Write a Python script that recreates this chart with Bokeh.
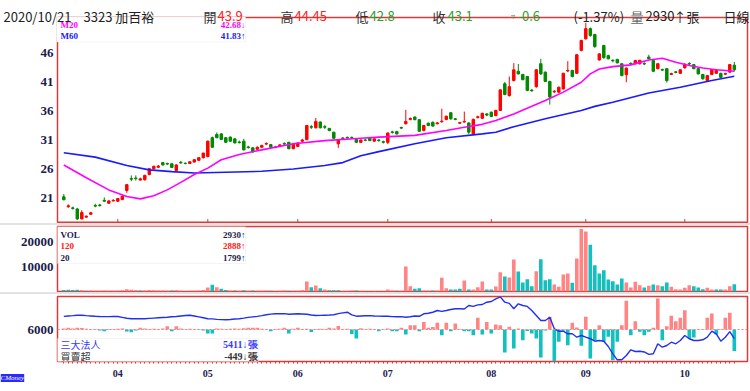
from bokeh.plotting import figure
from bokeh.layouts import column, row
from bokeh.models import ColumnDataSource, Range1d, FixedTicker, Label, BoxAnnotation, Span, Div
from bokeh.embed import file_html
from bokeh.resources import INLINE
from bokeh.core.properties import value

# ---------------- data ----------------
open_ = [21.2, 19.5, 19.3, 19.1, 17.4, 17.7, 18.2, 19.7, 19.8, 20.6,
         20.1, 20.5, 20.45, 20.75, 22.3, 24.35, 24.45, 24.1, 24.15, 25.05,
         26.05, 26.3, 27.1, 26.95, 26.9, 25.75, 27.15, 27.0, 26.95, 27.2,
         27.5, 27.95, 28.15, 31.4, 31.95, 32.05, 31.4, 31.5, 31.2, 30.65,
         30.8, 29.8, 29.65, 29.4, 29.75, 30.3, 30.2, 29.8, 30.0, 30.4,
         30.6, 29.5, 29.9, 30.8, 31.05, 33.3, 33.1, 34.1, 33.3, 33.0,
         32.35, 30.35, 31.35, 31.45, 31.45, 31.1, 30.6, 31.0, 31.3, 30.8,
         31.0, 30.7, 30.6, 32.4, 32.45, 33.15, 33.8, 34.55, 34.95, 34.5,
         32.65, 33.9, 34.05, 33.8, 34.15, 34.55, 35.7, 34.65, 33.9, 34.1,
         33.95, 31.95, 34.9, 34.75, 35.5, 35.8, 35.2, 36.1, 40.7, 38.65,
         41.25, 42.85, 42.3, 41.95, 39.6, 40.2, 44.15, 42.7, 41.1, 39.3,
         39.25, 39.8, 42.9, 43.0, 42.5, 46.45, 48.45, 50.2, 49.2, 44.8,
         47.3, 45.55, 44.75, 44.9, 44.15, 42.25, 44.2, 44.15, 44.15, 44.2,
         45.3, 44.7, 43.3, 43.15, 43.3, 42.3, 42.75, 42.5, 43.45, 44.2,
         44.0, 43.3, 42.3, 41.25, 42.3, 42.5, 42.5, 42.35, 42.7, 43.9]
high_ = [21.7, 19.9, 19.5, 19.3, 18.9, 18.0, 18.6, 20.0, 20.0, 21.1,
         20.6, 20.8, 21.0, 21.4, 23.4, 24.9, 24.9, 24.5, 25.0, 26.2,
         26.6, 26.7, 27.2, 27.1, 27.0, 26.8, 27.4, 27.1, 27.3, 27.7,
         28.0, 28.8, 30.9, 31.6, 32.3, 32.2, 31.5, 31.6, 31.3, 30.9,
         31.2, 30.0, 29.8, 29.9, 30.2, 30.6, 30.3, 30.0, 30.3, 30.6,
         30.7, 30.5, 30.6, 31.2, 33.6, 33.6, 34.8, 34.2, 33.6, 33.1,
         32.4, 31.1, 31.5, 31.6, 31.6, 31.2, 31.1, 31.2, 31.4, 31.3,
         31.2, 30.9, 32.3, 32.6, 32.6, 33.3, 36.2, 34.9, 35.1, 34.6,
         33.6, 34.0, 34.2, 34.1, 36.4, 35.2, 35.8, 34.8, 34.1, 35.9,
         34.0, 34.7, 35.2, 35.7, 35.6, 35.9, 36.2, 39.7, 41.0, 41.95,
         44.25, 44.1, 42.4, 42.0, 39.8, 43.2, 45.0, 42.8, 41.2, 39.6,
         40.2, 42.6, 44.6, 43.1, 45.8, 48.3, 51.2, 50.4, 49.3, 45.9,
         47.4, 45.7, 44.9, 45.0, 44.2, 43.5, 44.4, 44.8, 44.8, 44.4,
         45.7, 44.8, 44.2, 43.3, 43.4, 42.6, 42.9, 43.2, 44.3, 44.4,
         44.1, 43.4, 42.4, 42.2, 43.2, 43.2, 42.6, 42.6, 44.1, 44.45]
low_ = [20.6, 19.3, 19.0, 17.2, 17.3, 17.6, 18.1, 19.4, 19.5, 20.3,
        20.0, 20.4, 20.3, 20.6, 21.9, 23.9, 24.0, 24.0, 24.0, 24.9,
        25.9, 26.2, 26.6, 26.7, 26.2, 25.6, 26.9, 26.8, 26.9, 27.1,
        27.4, 27.8, 28.0, 29.6, 31.3, 31.0, 30.5, 30.7, 30.4, 30.4,
        29.2, 29.5, 28.8, 29.3, 29.7, 30.1, 29.6, 29.6, 29.9, 30.1,
        29.4, 29.4, 29.8, 30.6, 31.0, 32.9, 33.0, 33.0, 32.9, 32.5,
        31.2, 29.65, 31.1, 31.2, 31.2, 30.5, 30.5, 30.8, 30.8, 30.7,
        30.7, 30.4, 30.3, 32.1, 31.9, 32.9, 33.7, 34.4, 34.4, 32.4,
        32.5, 33.4, 33.3, 33.7, 34.0, 34.4, 34.5, 34.4, 33.8, 34.0,
        32.0, 31.8, 34.7, 34.6, 35.1, 35.0, 35.1, 36.0, 38.7, 38.5,
        41.1, 42.3, 41.3, 39.4, 39.3, 40.0, 42.2, 41.0, 37.1, 39.1,
        39.1, 39.7, 42.7, 41.8, 42.4, 46.3, 48.3, 48.8, 46.9, 44.7,
        45.0, 44.9, 44.4, 44.2, 42.0, 40.95, 43.9, 44.0, 44.0, 43.9,
        44.9, 42.7, 43.2, 42.9, 40.9, 42.2, 42.5, 42.4, 43.3, 43.9,
        43.2, 42.3, 41.4, 41.1, 42.2, 42.4, 41.7, 42.2, 42.6, 42.8]
close_ = [20.7, 19.65, 19.2, 17.4, 18.5, 17.85, 18.45, 19.6, 19.7, 20.45,
          20.5, 20.6, 20.9, 21.3, 23.3, 24.25, 24.35, 24.3, 24.9, 26.05,
          26.45, 26.5, 26.7, 26.85, 26.25, 26.7, 27.05, 26.95, 27.25, 27.6,
          27.95, 28.75, 30.8, 29.75, 31.4, 31.1, 30.6, 30.8, 30.5, 30.55,
          29.3, 29.7, 28.95, 29.75, 30.05, 30.4, 29.75, 29.7, 30.15, 30.3,
          29.5, 30.35, 30.5, 31.0, 33.5, 33.2, 34.2, 33.1, 33.2, 32.65,
          31.3, 31.05, 31.25, 31.35, 31.4, 30.6, 31.0, 30.95, 30.9, 31.2,
          30.9, 30.6, 32.2, 32.3, 32.05, 33.05, 34.2, 34.7, 34.5, 32.5,
          33.5, 33.5, 33.4, 33.95, 34.25, 35.1, 34.65, 34.55, 34.0, 34.2,
          32.35, 34.55, 35.0, 35.6, 35.3, 35.05, 36.1, 39.65, 38.85, 40.2,
          43.1, 42.4, 41.4, 39.55, 39.5, 43.1, 42.4, 41.1, 38.4, 39.4,
          40.1, 42.5, 43.0, 41.95, 45.7, 48.15, 50.2, 49.0, 47.1, 45.85,
          45.2, 45.0, 44.65, 44.3, 42.1, 43.4, 44.1, 44.7, 44.75, 44.1,
          45.0, 42.85, 44.15, 43.05, 41.25, 42.45, 42.65, 43.1, 44.0, 44.1,
          43.3, 42.4, 41.55, 42.1, 43.15, 43.05, 41.8, 42.45, 44.0, 43.1]
volume = [600, 700, 600, 700, 500, 300, 400, 300, 300, 400,
          300, 300, 400, 500, 900, 700, 500, 400, 400, 600,
          500, 400, 400, 300, 400, 500, 300, 200, 300, 300,
          400, 600, 1600, 2700, 1700, 1100, 600, 400, 400, 300,
          500, 300, 400, 300, 300, 400, 300, 200, 300, 400,
          300, 300, 300, 500, 4000, 1700, 2400, 1300, 800, 500,
          500, 500, 200, 200, 400, 400, 200, 200, 200, 200,
          200, 200, 800, 400, 300, 300, 10000, 2100, 1100, 1300,
          400, 400, 400, 400, 5500, 1300, 800, 800, 1100, 4400,
          800, 800, 1700, 4000, 800, 800, 2000, 7700, 6000, 5600,
          12800, 8000, 3600, 4900, 2100, 8100, 12900, 4500, 4900, 2800,
          1900, 6800, 7200, 3500, 13200, 25000, 24000, 18700, 10500, 7200,
          8500, 4800, 4100, 2800, 5200, 3600, 1600, 3900, 2500, 1600,
          2300, 2800, 2500, 2100, 3600, 1900, 900, 800, 1500, 2500,
          2100, 1600, 900, 1500, 800, 800, 800, 800, 2100, 2930]
net_buy = [20, 35, 20, 35, 30, 15, 10, 10, -20, -35,
           -10, 10, 15, 20, -40, -60, -20, 35, 20, 10,
           15, 10, 20, 70, -35, 70, 20, 10, 15, 10,
           -10, -20, -85, -85, 20, 15, 10, 15, 20, 15,
           25, 35, 35, 35, 15, 10, -35, 10, 15, 35,
           -85, 15, 35, 10, 15, -50, 10, 15, 10, 35,
           20, 75, 10, 15, -95, -190, 25, 10, 15, 10,
           -35, 10, 20, -35, -35, 35, -105, 90, 90, -35,
           160, 35, 55, 140, -120, 140, -35, 125, 10, -35,
           -35, -120, 245, -105, 160, -85, 105, 90, -483, 56,
           -400, 20, -224, -30, -84, -189, -588, -20, 266, -679,
           -259, -20, -329, 140, 42, -343, 266, -609, -224, 91,
           -259, -154, -644, -259, 91, 602, -119, 175, -49, -119,
           -49, 35, 651, -224, 70, 287, 175, 245, 406, -189,
           -168, 10, -10, 245, 336, -105, 10, 245, 350, -449]
inst_hold = [6850, 6880, 6900, 6930, 6930, 6900, 6880, 6860, 6845, 6840,
             6840, 6845, 6845, 6790, 6735, 6700, 6700, 6695, 6700, 6720,
             6740, 6760, 6780, 6800, 6830, 6845, 6880, 6910, 6930, 6880,
             6820, 6760, 6700, 6690, 6660, 6640, 6630, 6650, 6680, 6700,
             6740, 6790, 6820, 6850, 6900, 6960, 7000, 7020, 7020, 7030,
             6990, 7010, 7020, 7010, 6990, 6940, 6910, 6920, 6930, 6940,
             6960, 7030, 7080, 7125, 6950, 6865, 6880, 6890, 6900, 6880,
             6870, 6865, 6860, 6840, 6830, 6840, 6800, 6830, 6880, 6860,
             7020, 7060, 7120, 7235, 7180, 7235, 7300, 7345, 7345, 7330,
             7560, 7500, 7600, 7625, 7775, 7820, 7995, 8120, 7775, 7700,
             7345, 7670, 7560, 7500, 7235, 6910, 6585, 6585, 6800, 6045,
             5890, 5890, 5720, 5720, 5500, 5610, 5500, 5400, 5240, 5285,
             5240, 4895, 4420, 4030, 4030, 4310, 4680, 4570, 4590, 4540,
             4380, 4420, 5070, 4850, 4960, 5175, 5070, 5285, 5610, 5400,
             5285, 5285, 5330, 5500, 5890, 5720, 5240, 5500, 5860, 5411]
ma20_idx = [0, 5, 10, 14, 17, 20, 23, 26, 29, 32, 35, 39, 44, 51, 58, 66, 70, 78, 85,
            89, 93, 96, 100, 104, 107, 111, 115, 117, 119, 122, 126, 130, 133, 136,
            139, 142, 145, 149]
ma20_val = [26.7, 24.5, 22.4, 21.25, 20.85, 21.4, 22.4, 23.7, 25.05, 26.15, 27.6, 28.5,
            29.3, 30.35, 30.9, 31.3, 31.5, 31.8, 32.65, 33.2, 33.7, 34.35, 35.5, 36.8,
            37.8, 39.25, 40.95, 42.4, 43.25, 43.65, 43.95, 44.8, 45.1, 44.4, 43.85,
            43.4, 43.1, 42.85]
ma60_idx = [0, 7, 14, 19, 24, 29, 36, 44, 51, 58, 62, 66, 70, 78, 85, 93, 96, 100, 107,
            115, 118, 122, 130, 137, 144, 149]
ma60_val = [28.8, 28.05, 26.6, 25.85, 25.55, 25.3, 25.45, 25.6, 26.0, 26.6, 27.1, 28.3,
            29.0, 30.35, 31.4, 32.05, 32.35, 33.3, 34.65, 36.1, 36.8, 37.5, 39.1, 40.1,
            41.25, 42.0]
month_pos = [12, 32, 52, 72, 95, 116, 138]
month_lbl = ["04", "05", "06", "07", "08", "09", "10"]
price_ticks = [21, 26, 31, 36, 41, 46]
vol_ticks = [10000, 20000]
hold_ticks = [6000]

# ---------------- styling ----------------
FRAME = "#d93b3b"
NAVY = "#1b1b4d"
UP, DOWN = "#ff0000", "#008a00"
VUP, VDOWN = "#ff8585", "#13c0c0"
HRED, HGREEN = "#ff2020", "#2e9e2e"
SERIF = "Liberation Serif"
SANS = "Noto Sans CJK TC"
SEP = "#e2e2e2"

# pixel helpers (layout only)
X0, DX = 63.3, 4.5
def xi(px):
    return (px - X0) / DX
def ya(py):
    return 46 + (52.5 - py) / 5.8
def yb(py):
    return (291 - py) * 400
def yc(py):
    return 6000 + (329 - py) * 65
NET_PX = 21.0

N = len(close_)
idx = list(range(N))
x_range = Range1d(xi(57), xi(747))


def style_yaxis(ax):
    ax.axis_line_color = None
    ax.major_tick_line_color = None
    ax.minor_tick_line_color = None
    ax.major_tick_out = 0
    ax.major_tick_in = 0
    ax.minor_tick_out = 0
    ax.major_label_standoff = 4
    ax.major_label_text_font = SERIF
    ax.major_label_text_font_style = "bold"
    ax.major_label_text_font_size = "13px"
    ax.major_label_text_color = NAVY


def base_fig(width, height, left, top, bottom, yr):
    p = figure(width=width, height=height, x_range=x_range, y_range=yr,
               output_backend="svg", toolbar_location=None,
               min_border_left=left, min_border_right=3,
               min_border_top=top, min_border_bottom=bottom, margin=0)
    p.outline_line_color = FRAME
    p.outline_line_width = 1.5
    p.grid.visible = False
    p.xaxis.visible = False
    p.background_fill_color = "white"
    p.border_fill_color = "white"
    style_yaxis(p.yaxis[0])
    return p


def plain_fig(width, height, xr, yr):
    p = figure(width=width, height=height, x_range=xr, y_range=yr,
               output_backend="svg", toolbar_location=None,
               min_border=0, min_border_left=0, min_border_right=0,
               min_border_top=0, min_border_bottom=0, margin=0)
    p.frame_align = False
    p.axis.visible = False
    p.grid.visible = False
    p.outline_line_color = None
    p.background_fill_color = "white"
    p.border_fill_color = "white"
    return p


def lab(p, x, y, text, color, size, font, style="normal", align="left",
        yname="default", baseline="middle"):
    p.add_layout(Label(x=x, y=y, text=text, text_color=color, text_font_size=size,
                       text_font=font, text_font_style=style, text_align=align,
                       text_baseline=baseline, y_range_name=yname))

# ---------------- main price panel (its frame spans the whole strip, header included) ----
pa = plain_fig(750, 223, Range1d(xi(0), xi(750)), Range1d(ya(223), ya(0)))

# panel border drawn as a closed polyline
bl, br, bt, bb = xi(57), xi(747), ya(17), ya(221.8)
pa.line(x=[bl, br, br, bl, bl], y=[bt, bt, bb, bb, bt], line_color=FRAME, line_width=1.5)

ccol = [UP if c >= o else DOWN for o, c in zip(open_, close_)]
src = ColumnDataSource(dict(x=idx, h=high_, l=low_,
                            top=[max(o, c) for o, c in zip(open_, close_)],
                            bot=[min(o, c) for o, c in zip(open_, close_)],
                            color=ccol))
pa.segment(x0="x", y0="l", x1="x", y1="h", line_color="color", line_width=1, source=src)
pa.vbar(x="x", width=0.55, top="top", bottom="bot", fill_color="color",
        line_color="color", line_width=1, source=src)
pa.line(ma60_idx, ma60_val, line_color="#1a1aff", line_width=1.6)
pa.line(ma20_idx, ma20_val, line_color="#ff00ff", line_width=1.6)

# month marks on the bottom edge of the price panel
pa.segment(x0=month_pos, y0=[bb] * len(month_pos), x1=month_pos,
           y1=[ya(218.5)] * len(month_pos), line_color=FRAME, line_width=1)

# price tick labels, placed through the price scale
pa.text(x=[xi(53)] * len(price_ticks), y=price_ticks, text=[str(t) for t in price_ticks],
        text_align="right", text_baseline="middle", text_font=value(SERIF),
        text_font_style="bold", text_font_size="13px", text_color=NAVY)

pa.add_layout(BoxAnnotation(left=xi(56), right=xi(245), top=ya(16.5), bottom=ya(41.5),
                            fill_color="white", fill_alpha=1.0,
                            line_color="#dcdcdc", line_width=1))
lab(pa, xi(60), ya(24), "M20", "#ff00ff", "9px", SERIF, "bold")
lab(pa, xi(245), ya(24), "42.68↓", "#ff00ff", "9px", SERIF, "bold", "right")
lab(pa, xi(60), ya(35.5), "M60", "#1a1aff", "9px", SERIF, "bold")
lab(pa, xi(245), ya(35.5), "41.83↑", "#1a1aff", "9px", SERIF, "bold", "right")

header = [(3, "2020/10/21", "#222222"), (83, "3323 加百裕", "#222222"),
          (203, "開", "#333333"), (217, "43.9", HRED),
          (280, "高", "#333333"), (294, "44.45", HRED),
          (355, "低", "#333333"), (369, "42.8", HGREEN),
          (432, "收", "#333333"), (447, "43.1", HGREEN),
          (517, "-0.6", HGREEN), (573, "(-1.37%)", "#222222"),
          (630, "量", "#666666"), (645, "2930", "#222222"),
          (673, "↑", "#222222"), (686, "張", "#222222"), (723, "日線", "#222222")]
for px, t, c in header:
    lab(pa, xi(px), ya(15.5), t, c, "13px", SANS, baseline="alphabetic")
lab(pa, xi(510), ya(15), "▿", HGREEN, "8px", SANS, baseline="alphabetic")

# ---------------- volume panel ----------------
pb = base_fig(750, 67, 57, 1, 1, Range1d(yb(291), yb(226)))
pb.yaxis[0].ticker = FixedTicker(ticks=vol_ticks)
vcol = [VUP if (i == 0 and close_[0] >= open_[0]) or (i > 0 and close_[i] >= close_[i - 1]) else VDOWN
        for i in idx]
vsrc = ColumnDataSource(dict(x=idx, v=volume, color=vcol))
pb.vbar(x="x", width=0.8, top="v", bottom=0, fill_color="color", line_color=None, source=vsrc)
pb.add_layout(BoxAnnotation(left=xi(56), right=xi(245), top=yb(226), bottom=yb(263),
                            fill_color="white", fill_alpha=1.0,
                            line_color="#dcdcdc", line_width=1))
lab(pb, xi(60), yb(234.5), "VOL", NAVY, "9px", SERIF, "bold")
lab(pb, xi(245), yb(234.5), "2930↑", NAVY, "9px", SERIF, "bold", "right")
lab(pb, xi(60), yb(245.5), "120", "#ff2020", "9px", SERIF, "bold")
lab(pb, xi(245), yb(245.5), "2888↑", "#ff2020", "9px", SERIF, "bold", "right")
lab(pb, xi(60), yb(257), "20", NAVY, "9px", SERIF, "bold")
lab(pb, xi(245), yb(257), "1799↑", NAVY, "9px", SERIF, "bold", "right")

# ---------------- institutional panel ----------------
c_yr = Range1d(yc(361), yc(296))
pc = base_fig(694, 97, 1, 2, 30, c_yr)
pc.yaxis.visible = False
pc.extra_y_ranges = {"net": Range1d(-(361 - 329) * NET_PX, (329 - 296) * NET_PX)}
ncol = [VUP if v >= 0 else VDOWN for v in net_buy]
nsrc = ColumnDataSource(dict(x=idx, v=net_buy, color=ncol))
pc.add_layout(Span(location=0, dimension="width", y_range_name="net",
                   line_color="#f08080", line_dash="2 2", line_width=1))
pc.vbar(x="x", width=0.8, top="v", bottom=0, fill_color="color", line_color=None,
        source=nsrc, y_range_name="net")
pc.line(idx, inst_hold, line_color="#2030ee", line_width=1.4)

xa = pc.xaxis[0]
xa.visible = True
xa.ticker = FixedTicker(ticks=month_pos, minor_ticks=idx)
xa.major_label_overrides = {m: s for m, s in zip(month_pos, month_lbl)}
xa.axis_line_color = None
xa.major_tick_line_color = FRAME
xa.minor_tick_line_color = FRAME
xa.major_tick_in = 0
xa.minor_tick_in = 0
xa.major_tick_out = 2
xa.minor_tick_out = 2
xa.major_label_standoff = 6
xa.major_label_text_font = SERIF
xa.major_label_text_font_style = "bold"
xa.major_label_text_font_size = "10px"
xa.major_label_text_color = NAVY

pc.add_layout(BoxAnnotation(left=xi(56), right=xi(258), top=yc(338), bottom=yc(362),
                            fill_color="white", fill_alpha=1.0,
                            line_color="#dcdcdc", line_width=1))
lab(pc, xi(60), yc(344), "三大法人", "#3a3aff", "10px", SANS)
lab(pc, xi(257), yc(344), "5411↓張", "#3a3aff", "10px", SERIF, "bold", "right")
lab(pc, xi(60), yc(356), "買賣超", "#333333", "10px", SANS)
lab(pc, xi(257), yc(356), "-449↓張", "#333333", "10px", SERIF, "bold", "right")

# left strip of the bottom panel: tick label and logo
pl = plain_fig(56, 97, Range1d(0, 56), Range1d(yc(391), yc(294)))
pl.text(x=[53] * len(hold_ticks), y=hold_ticks, text=[str(t) for t in hold_ticks],
        text_align="right", text_baseline="middle", text_font=value(SERIF),
        text_font_style="bold", text_font_size="13px", text_color=NAVY)
pl.add_layout(Label(x=0, y=yc(377.5), text="CMoney", text_color="white",
                    text_font_size="7px", text_font=SERIF, text_font_style="italic",
                    text_baseline="middle", background_fill_color="#2a2aff"))

sep1 = Div(width=750, height=2, margin=0, styles={"background-color": SEP})
sep2 = Div(width=750, height=2, margin=0, styles={"background-color": SEP})
bottom = row(pl, pc, spacing=0, margin=0)

layout = column(pa, sep1, pb, sep2, bottom, spacing=0, margin=0,
                styles={"position": "absolute", "top": "0px", "left": "0px"})

open("out.html", "w").write(file_html(layout, INLINE))
